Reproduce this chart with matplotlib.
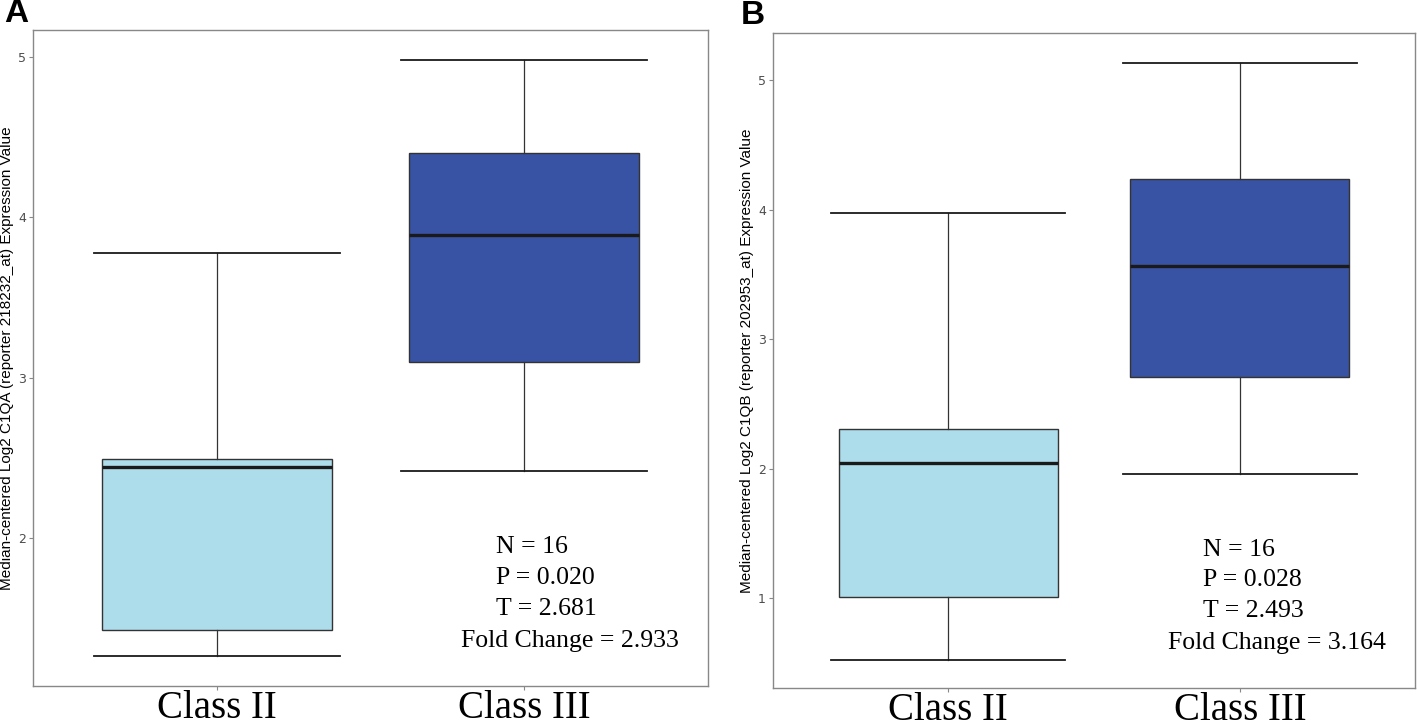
import matplotlib
matplotlib.use('Agg')
import matplotlib.pyplot as plt

# box statistics
classes = ['Class II', 'Class III']

a_med = [2.44, 3.89]
a_q1 = [1.425, 3.10]
a_q3 = [2.49, 4.40]
a_lo = [1.26, 2.42]
a_hi = [3.775, 4.98]

b_med = [2.043, 3.563]
b_q1 = [1.005, 2.705]
b_q3 = [2.303, 4.235]
b_lo = [0.525, 1.955]
b_hi = [3.972, 5.134]

a_stats_text = ['N = 16', 'P = 0.020', 'T = 2.681', 'Fold Change = 2.933']
b_stats_text = ['N = 16', 'P = 0.028', 'T = 2.493', 'Fold Change = 3.164']

a_ylabel = 'Median-centered Log2 C1QA (reporter 218232_at) Expression Value'
b_ylabel = 'Median-centered Log2 C1QB (reporter 202953_at) Expression Value'

box_colors = ['#ADDCEB', '#3953A4']

fig = plt.figure(figsize=(14.17, 7.24), dpi=100)
ax_a = fig.add_axes([0.0233, 0.0525, 0.4764, 0.9061])
ax_b = fig.add_axes([0.5455, 0.0497, 0.4531, 0.9047])


def draw_panel(ax, med, q1, q3, lo, hi, ylim, yticks, ylabel, lines, xs, ys):
    stats = []
    for i in range(len(classes)):
        stats.append({'med': med[i], 'q1': q1[i], 'q3': q3[i],
                      'whislo': lo[i], 'whishi': hi[i], 'fliers': []})
    parts = ax.bxp(stats, positions=[1, 2], widths=0.75, capwidths=0.8,
                   patch_artist=True, showfliers=False,
                   boxprops=dict(edgecolor='#333333', linewidth=1.0),
                   medianprops=dict(color='#1a1a1a', linewidth=2.4),
                   whiskerprops=dict(color='#333333', linewidth=0.9),
                   capprops=dict(color='#1a1a1a', linewidth=1.3))
    for patch, c in zip(parts['boxes'], box_colors):
        patch.set_facecolor(c)

    ax.set_xlim(0.4, 2.6)
    ax.set_ylim(*ylim)
    ax.set_yticks(yticks)
    ax.set_xticks([1, 2])
    ax.set_xticklabels(classes, fontsize=28, family='Liberation Serif')
    ax.tick_params(axis='y', labelsize=9, labelcolor='#4d4d4d',
                   color='#888888', length=3, pad=2)
    ax.tick_params(axis='x', color='#888888', length=3, pad=0)
    for s in ax.spines.values():
        s.set_color('#888888')
        s.set_linewidth(1.0)
    ax.set_ylabel(ylabel, fontsize=11, family='Liberation Sans', labelpad=3)

    for i, t in enumerate(lines):
        ax.text(xs[i], ys[i], t, transform=ax.transAxes, fontsize=18.5,
                family='Liberation Serif', ha='left', va='center')


draw_panel(ax_a, a_med, a_q1, a_q3, a_lo, a_hi, (1.075, 5.17), [2, 3, 4, 5],
           a_ylabel, a_stats_text,
           [0.686, 0.686, 0.686, 0.634], [0.212, 0.165, 0.117, 0.069])
draw_panel(ax_b, b_med, b_q1, b_q3, b_lo, b_hi, (0.305, 5.363), [1, 2, 3, 4, 5],
           b_ylabel, b_stats_text,
           [0.670, 0.670, 0.670, 0.615], [0.211, 0.165, 0.118, 0.069])

fig.text(0.003, 0.982, 'A', fontsize=24, fontweight='bold',
         family='Liberation Sans', ha='left', va='center')
fig.text(0.523, 0.978, 'B', fontsize=24, fontweight='bold',
         family='Liberation Sans', ha='left', va='center')

fig.savefig('out.png', dpi=100)
